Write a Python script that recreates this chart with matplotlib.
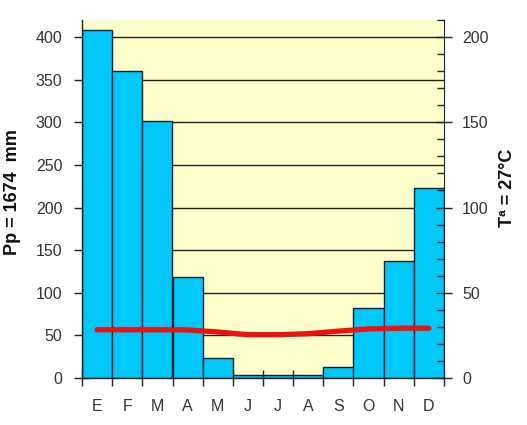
import matplotlib
matplotlib.use("Agg")
import matplotlib.pyplot as plt
from matplotlib.ticker import MultipleLocator

months = ["E", "F", "M", "A", "M", "J", "J", "A", "S", "O", "N", "D"]
precip = [408, 360, 301, 119, 24, 3.5, 3, 3, 12.5, 82, 137, 223]
temp = [28.3, 28.3, 28.3, 28.2, 27.0, 25.4, 25.4, 26.0, 27.5, 28.8, 29.2, 29.2]
left_ticks = [0, 50, 100, 150, 200, 250, 300, 350, 400]
right_ticks = [0, 50, 100, 150, 200]
left_label = "Pp = 1674  mm"
right_label = "Tª = 27°C"

plt.rcParams['font.family'] = ['Liberation Sans', 'DejaVu Sans']

fig = plt.figure(figsize=(5.27, 4.25), dpi=100)
ax = fig.add_axes([82/527, 1-378/425, (444-82)/527, (378-20)/425])
ax.set_facecolor("#FFFFCC")

x = list(range(len(months)))
for yv in left_ticks[1:]:
    ax.axhline(yv, color="#222222", lw=1.0, zorder=1)
ax.bar(x, precip, width=1.0, color="#00C8F8", edgecolor="#102030", linewidth=1.0, zorder=2)

ax.set_xlim(-0.5, 11.5)
ax.set_ylim(0, 420)
ax.set_yticks(left_ticks)
ax.set_xticks(x)
ax.set_xticklabels(months)
ax.set_xticks([i - 0.5 for i in range(13)], minor=True)
ax.tick_params(axis="x", which="major", length=0, pad=15, labelsize=11.5, labelcolor="#333333")
ax.tick_params(axis="x", which="minor", direction="inout", length=12, width=1, color="#222222")
ax.tick_params(axis="y", which="major", direction="inout", length=12, width=1, color="#222222",
               pad=8, labelsize=11.5, labelcolor="#333333")
ax.spines["top"].set_visible(False)
ax.spines["right"].set_visible(False)
for s in ["left", "bottom"]:
    ax.spines[s].set_color("#222222")
    ax.spines[s].set_linewidth(1.0)

ax2 = ax.twinx()
ax2.set_ylim(0, 210)
ax2.set_yticks(right_ticks)
ax2.yaxis.set_minor_locator(MultipleLocator(10))
ax2.tick_params(axis="y", which="major", direction="inout", length=12, width=1, color="#222222",
                pad=7, labelsize=11.5, labelcolor="#333333")
ax2.tick_params(axis="y", which="minor", direction="in", length=5, width=1, color="#222222")
ax2.spines["top"].set_visible(False)
ax2.spines["left"].set_visible(False)
ax2.spines["bottom"].set_visible(False)
ax2.spines["right"].set_color("#222222")
ax2.plot(x, temp, color="#EE1111", lw=3.8, solid_capstyle="round", solid_joinstyle="round", zorder=5)

fig.text(13/527, 1-192/425, left_label, rotation=90, ha="center", va="center",
         fontsize=13, fontweight="bold", color="#111111")
fig.text(507/527, 1-188/425, right_label, rotation=90, ha="center", va="center",
         fontsize=13, fontweight="bold", color="#111111")

fig.savefig("out.png", dpi=100, facecolor="white")
